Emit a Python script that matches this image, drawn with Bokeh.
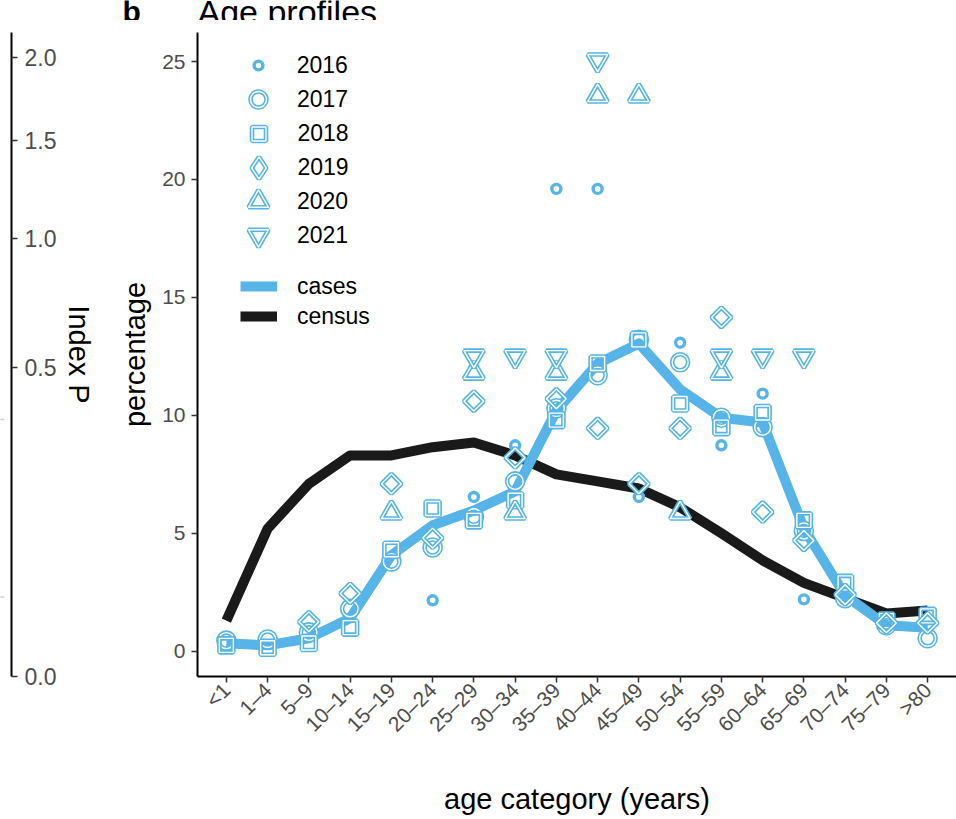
import math
from bokeh.plotting import figure
from bokeh.models import (Range1d, FactorRange, Legend, LegendItem, Label,
                          FixedTicker, CustomJSTickFormatter, ColumnDataSource)
from bokeh.layouts import row, column
from bokeh.embed import file_html
from bokeh.resources import INLINE

# ---------------- data ----------------
categories = ["<1", "1–4", "5–9", "10–14", "15–19", "20–24", "25–29", "30–34",
              "35–39", "40–44", "45–49", "50–54", "55–59", "60–64", "65–69",
              "70–74", "75–79", ">80"]

cases_pct = [0.34, 0.25, 0.55, 1.40, 4.07, 5.34, 5.97, 6.78, 10.2, 12.2, 13.05,
             11.1, 9.9, 9.7, 5.2, 2.37, 1.1, 1.0]
census_pct = [1.3, 5.2, 7.1, 8.3, 8.3, 8.65, 8.85, 8.3, 7.5, 7.2, 6.9, 6.1,
              5.0, 3.85, 2.9, 2.25, 1.6, 1.73]

years = ["2016", "2017", "2018", "2019", "2020", "2021"]
pct_2016 = [None, None, None, None, None, 2.16, 6.54, 8.73, 19.6, 19.6, 6.54,
            13.08, 8.73, 10.92, 2.2, 2.2, None, None]
pct_2017 = [0.45, 0.5, 0.8, 1.8, 3.8, 4.4, 5.7, 7.2, 10.3, 11.7, 13.2, 12.25,
            9.9, 9.5, 5.1, 2.25, 1.1, 0.55]
pct_2018 = [0.25, 0.15, 0.35, 1.0, 4.3, 6.05, 5.55, 6.4, 9.8, 12.2, 13.2, 10.5,
            9.5, 10.1, 5.55, 2.9, 1.3, 1.5]
pct_2019 = [None, None, 1.25, 2.45, 7.1, 4.8, 10.6, 8.2, 10.7, 9.45, 7.1, 9.45,
            14.15, 5.9, 4.7, 2.4, 1.2, 1.2]
pct_2020 = [None, None, None, None, 5.87, None, 11.8, 5.87, 11.8, 23.55, 23.55,
            5.87, 11.8, None, None, None, None, None]
pct_2021 = [None, None, None, None, None, None, 12.5, 12.5, 12.5, 25.05, None,
            None, 12.5, 12.5, 12.5, None, None, None]
year_values = [pct_2016, pct_2017, pct_2018, pct_2019, pct_2020, pct_2021]

index_p_ticks = [0.0, 0.5, 1.0, 1.5, 2.0]
index_p_marks = [0.345, 0.033]

# ---------------- styles ----------------
BLUE = "#56B4E9"
BLACK = "#1A1A1A"
FONT = "Liberation Sans"
TICK_COL = "#4D4D4D"

# marker, size, angle, outer width, inner white width, legend marker, legend size
year_styles = [
    ("circle", 9, 0.0, 3.4, None, "circle", 9),
    ("circle", 16, 0.0, 4.6, 1.4, "circle", 16),
    ("square", 14, 0.0, 4.6, 1.4, "square", 14),
    ("square", 14, math.pi / 4, 4.6, 1.4, "diamond", 22),
    ("triangle", 20, 0.0, 4.6, 1.4, "triangle", 20),
    ("inverted_triangle", 20, 0.0, 4.6, 1.4, "inverted_triangle", 20),
]

TOP_STRIP = 20
H = 819 - TOP_STRIP

# ---------------- top strip with panel tag and (cut) title ----------------
pT = figure(width=956, height=TOP_STRIP, x_range=Range1d(0, 956),
            y_range=Range1d(0, TOP_STRIP), toolbar_location=None,
            output_backend="svg", min_border_left=0, min_border_right=0,
            min_border_top=0, min_border_bottom=0, outline_line_color=None,
            x_axis_location=None, y_axis_location=None)
pT.grid.visible = False
pT.add_layout(Label(x=122, y=TOP_STRIP - 11, x_units="screen", y_units="screen",
                    text="b", text_font=FONT, text_font_style="bold",
                    text_font_size="30px", text_baseline="alphabetic",
                    text_color="black"))
pT.add_layout(Label(x=197, y=TOP_STRIP - 11, x_units="screen", y_units="screen",
                    text="Age profiles", text_font=FONT, text_font_size="34px",
                    text_baseline="alphabetic", text_color="black"))

# ---------------- left panel (Index P axis) ----------------
pL = figure(width=100, height=H, x_range=Range1d(0, 1),
            y_range=Range1d(0, 1.4715), y_axis_location="right",
            x_axis_location=None, toolbar_location=None, output_backend="svg",
            min_border_left=0, min_border_right=89, min_border_top=32 - TOP_STRIP,
            min_border_bottom=141, outline_line_color=None)
pL.grid.visible = False
pL.scatter(x=[0.05] * len(index_p_marks), y=[math.sqrt(v) for v in index_p_marks],
           marker="dash", size=6, line_color="#CCCCCC", line_width=1.5)
ya = pL.yaxis[0]
ya.ticker = FixedTicker(ticks=[math.sqrt(v) for v in index_p_ticks])
ya.formatter = CustomJSTickFormatter(code="return (tick*tick).toFixed(1);")
ya.minor_tick_line_color = None
ya.axis_line_width = 2
ya.axis_line_color = "black"
ya.major_tick_line_color = "#333333"
ya.major_tick_line_width = 1.5
ya.major_tick_out = 6
ya.major_tick_in = 0
ya.major_label_text_font = FONT
ya.major_label_text_font_size = "23px"
ya.major_label_text_color = TICK_COL
ya.major_label_standoff = 7
ya.axis_label = "Index P"
ya.axis_label_text_font = FONT
ya.axis_label_text_font_size = "29px"
ya.axis_label_text_font_style = "normal"
ya.axis_label_text_color = "black"
ya.axis_label_standoff = 4

# ---------------- main panel ----------------
pR = figure(width=856, height=H,
            x_range=FactorRange(factors=categories, range_padding=0.2,
                                range_padding_units="absolute"),
            y_range=Range1d(-1.07, 26.23), toolbar_location=None,
            output_backend="svg", min_border_left=97, min_border_right=0,
            min_border_top=32 - TOP_STRIP, min_border_bottom=143,
            outline_line_color=None)
pR.grid.visible = False

src_lines = ColumnDataSource(dict(cat=categories, cases=cases_pct, census=census_pct))
r_census = pR.line("cat", "census", source=src_lines, line_color=BLACK,
                   line_width=10, line_join="round")
r_cases = pR.line("cat", "cases", source=src_lines, line_color=BLUE,
                  line_width=10, line_join="round")

year_renderers = []
legend_renderers = []
for vals, (mk, sz, ang, lw, wlw, lmk, lsz) in zip(year_values, year_styles):
    cats = [c for c, v in zip(categories, vals) if v is not None]
    ys = [v for v in vals if v is not None]
    src = ColumnDataSource(dict(cat=cats, pct=ys))
    rs = [pR.scatter("cat", "pct", source=src, marker=mk, size=sz, angle=ang,
                     fill_color=None, line_color=BLUE, line_width=lw)]
    if wlw:
        rs.append(pR.scatter("cat", "pct", source=src, marker=mk, size=sz, angle=ang,
                             fill_color=None, line_color="white", line_width=wlw))
    year_renderers.append(rs)
    if lmk != mk:
        # swatch-only renderers (a single NaN point, never drawn in the plot)
        swatch = ColumnDataSource(dict(cat=[categories[0]], pct=[float("nan")]))
        ls = [pR.scatter("cat", "pct", source=swatch, marker=lmk, size=lsz,
                         fill_color=None, line_color=BLUE, line_width=lw)]
        if wlw:
            ls.append(pR.scatter("cat", "pct", source=swatch, marker=lmk, size=lsz,
                                 fill_color=None, line_color="white", line_width=wlw))
        legend_renderers.append(ls)
    else:
        legend_renderers.append(rs)

# axes
for ax in (pR.xaxis[0], pR.yaxis[0]):
    ax.axis_line_width = 2
    ax.axis_line_color = "black"
    ax.major_tick_line_color = "#333333"
    ax.major_tick_line_width = 1.5
    ax.major_tick_out = 6
    ax.major_tick_in = 0
    ax.minor_tick_line_color = None
    ax.major_label_text_font = FONT
    ax.major_label_text_font_size = "21px"
    ax.major_label_text_color = TICK_COL
    ax.axis_label_text_font = FONT
    ax.axis_label_text_font_size = "29px"
    ax.axis_label_text_font_style = "normal"
    ax.axis_label_text_color = "black"

xa = pR.xaxis[0]
xa.major_label_orientation = math.pi / 4
xa.major_label_standoff = 4
xa.axis_label = "age category (years)"
xa.axis_label_standoff = 36

yax = pR.yaxis[0]
yax.ticker = FixedTicker(ticks=[0, 5, 10, 15, 20, 25])
yax.major_label_standoff = 6
yax.axis_label = "percentage"
yax.axis_label_standoff = 8

# legends (one per year so each swatch keeps its own marker size)
FRAME_BOTTOM = 676
FRAME_LEFT = 197
for k, (yr, rs, st) in enumerate(zip(years, legend_renderers, year_styles)):
    sz = st[6]
    gw = sz / 0.4
    gh = max(gw, 34)
    yc = 65 + 34 * k
    vx = (258 - FRAME_LEFT) - gw / 2
    vy = (FRAME_BOTTOM - yc) - gh / 2
    lg = Legend(items=[LegendItem(label=yr, renderers=rs)], location=(vx, vy),
                glyph_width=int(round(gw)), glyph_height=int(round(gh)),
                label_standoff=int(round(297 - 258 - gw / 2)),
                label_text_font=FONT, label_text_font_size="23px",
                label_text_color="black", padding=0, spacing=0, margin=0,
                border_line_color=None, background_fill_alpha=0)
    pR.add_layout(lg, "center")

lg2 = Legend(items=[LegendItem(label="cases", renderers=[r_cases]),
                    LegendItem(label="census", renderers=[r_census])],
             location=(240 - FRAME_LEFT, (FRAME_BOTTOM - 271) - 60),
             glyph_width=37, glyph_height=30, label_standoff=20,
             label_text_font=FONT, label_text_font_size="23px",
             label_text_color="black", padding=0, spacing=0, margin=0,
             border_line_color=None, background_fill_alpha=0)
pR.add_layout(lg2, "center")

layout = column(pT, row(pL, pR))
open("out.html", "w").write(file_html(layout, INLINE))
